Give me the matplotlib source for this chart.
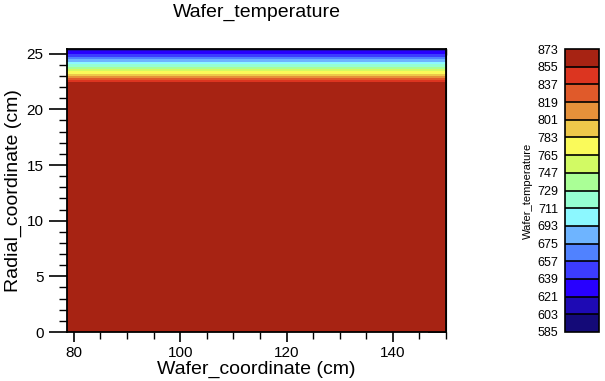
import numpy as np
import matplotlib
matplotlib.use("Agg")
import matplotlib.pyplot as plt
from matplotlib.colors import ListedColormap, BoundaryNorm

plt.rcParams['font.family'] = ['Liberation Sans', 'DejaVu Sans']

# ---- data ----
radial_cm = [0.0, 22.2, 22.42, 22.6, 22.78, 22.96, 23.17, 23.38, 23.62, 23.80,
             24.01, 24.25, 24.46, 24.70, 24.91, 25.18, 25.32, 25.42]
temp_profile = [866, 864, 855, 837, 819, 801, 783, 765, 747, 729,
                711, 693, 675, 657, 639, 621, 603, 592]
wafer_cm = [78.7, 79.0, 150.0]
edge_offset = [-14, 0, 0]

levels = list(range(585, 874, 18))
level_colors = ['#140a78', '#1e0ab4', '#2800ff', '#3c3cff', '#5082ff', '#6eb4ff',
                '#8cf8ff', '#96ffd2', '#aaff96', '#d2fa64', '#fafa5a', '#eec84a',
                '#e6913a', '#e05a2a', '#dc3520', '#a72313']

title = 'Wafer_temperature'
xlabel = 'Wafer_coordinate (cm)'
ylabel = 'Radial_coordinate (cm)'
cbar_label = 'Wafer_temperature'

# ---- build field ----
R = np.array(radial_cm)
X = np.array(wafer_cm)
Z = np.array(temp_profile)[:, None] + np.array(edge_offset)[None, :]

cmap = ListedColormap(level_colors)
norm = BoundaryNorm(levels, cmap.N)

fig = plt.figure(figsize=(6.05, 3.81), dpi=100)
W, H = 605, 381
ax = fig.add_axes([67 / W, 1 - 332 / H, (446 - 67) / W, (332 - 49) / H])
ax.contourf(X, R, Z, levels=levels, cmap=cmap, norm=norm)
ax.set_xlim(78.7, 150.0)
ax.set_ylim(0, 25.42)

ax.set_xticks([80, 100, 120, 140])
ax.set_xticks(np.arange(80, 151, 5), minor=True)
ax.set_yticks([0, 5, 10, 15, 20, 25])
ax.set_yticks(np.arange(0, 26, 1), minor=True)
ax.tick_params(axis='x', which='major', direction='out', length=7, width=1.2,
               labelsize=11, pad=3)
ax.tick_params(axis='x', which='minor', direction='out', length=5, width=1.0)
ax.tick_params(axis='y', which='major', direction='out', length=13, width=1.2,
               labelsize=11, pad=4)
ax.tick_params(axis='y', which='minor', direction='out', length=6, width=1.0)
for s in ax.spines.values():
    s.set_linewidth(1.3)

sx = ax.secondary_xaxis('top')
sx.set_xticks([80, 100, 120, 140])
sx.set_xticks(np.arange(80, 151, 5), minor=True)
sx.tick_params(which='major', direction='in', length=9, width=1.2, labeltop=False)
sx.tick_params(which='minor', direction='in', length=4, width=1.0)
sy = ax.secondary_yaxis('right')
sy.set_yticks([0, 5, 10, 15, 20, 25])
sy.set_yticks(np.arange(0, 26, 1), minor=True)
sy.tick_params(which='major', direction='in', length=13, width=1.2, labelright=False)
sy.tick_params(which='minor', direction='in', length=7, width=1.0)

ax.set_xlabel(xlabel, fontsize=14, labelpad=1)
ax.set_ylabel(ylabel, fontsize=14, labelpad=3)
ax.set_title(title, fontsize=14, pad=23)

# ---- colorbar ----
cax = fig.add_axes([565 / W, 1 - 332 / H, 34 / W, (332 - 49) / H])
sm = matplotlib.cm.ScalarMappable(cmap=cmap, norm=norm)
cb = fig.colorbar(sm, cax=cax, boundaries=levels, ticks=levels, drawedges=True)
cb.outline.set_linewidth(1.2)
cb.dividers.set_linewidth(1.2)
cax.yaxis.set_ticks_position('left')
cax.yaxis.set_label_position('left')
cax.tick_params(length=0, labelsize=9, pad=5)
cax.set_ylabel(cbar_label, fontsize=8, labelpad=3)

fig.savefig('out.png', dpi=100)
